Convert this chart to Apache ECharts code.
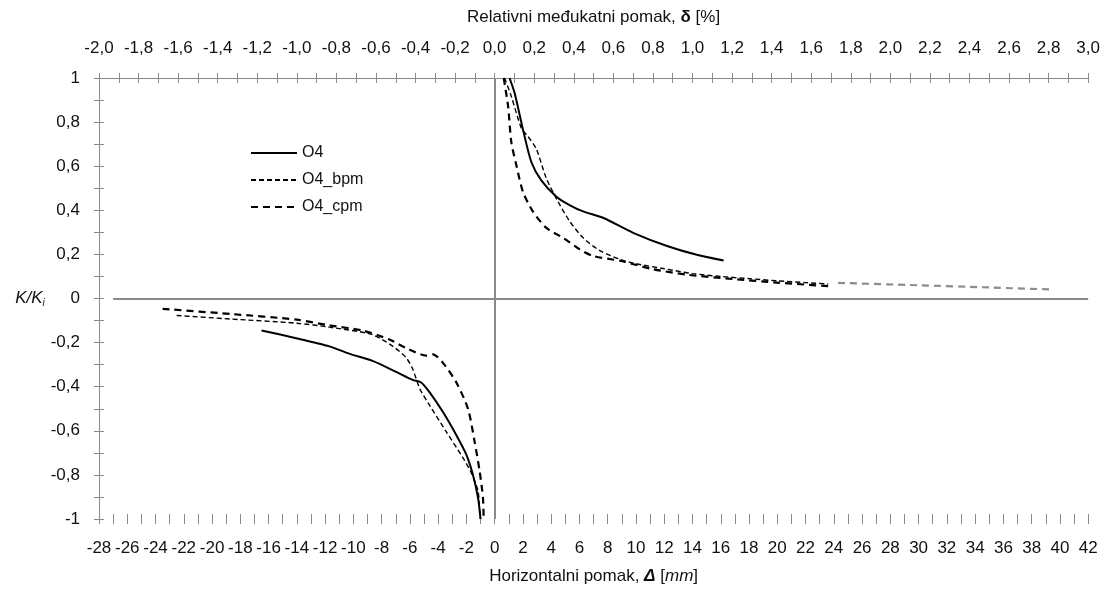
<!DOCTYPE html>
<html>
<head>
<meta charset="utf-8">
<script src="https://cdn.jsdelivr.net/npm/echarts@6/dist/echarts.min.js"></script>
<style>
html,body{margin:0;padding:0;background:#fff;}
#chart{width:1103px;height:590px;}
</style>
</head>
<body>
<div id="chart"></div>
<script>
// ---- data (x = horizontal displacement Δ [mm], y = K/Ki) ----
const O4_pos = [[1.05,1.0],[1.42,0.93],[2.0,0.767],[2.6,0.618],[3.3,0.536],[4.37,0.462],[5.3,0.424],[6.26,0.395],[7.7,0.365],[9.8,0.298],[12.2,0.238],[14.3,0.198],[16.2,0.172]];
const O4_neg = [[-16.5,-0.145],[-14.05,-0.18],[-11.7,-0.217],[-10.3,-0.25],[-8.6,-0.284],[-6.97,-0.333],[-5.8,-0.369],[-5.2,-0.381],[-4.6,-0.426],[-3.66,-0.515],[-2.71,-0.62],[-2.0,-0.709],[-1.54,-0.799],[-1.18,-0.903],[-1.0,-1.0]];
const O4_bpm_pos = [[0.7,1.0],[1.18,0.916],[1.9,0.77],[2.3,0.74],[2.95,0.678],[3.66,0.544],[4.47,0.441],[5.3,0.351],[6.26,0.275],[7.44,0.217],[8.86,0.178],[10,0.158],[12,0.135],[14,0.113],[16,0.1],[18,0.09],[20,0.08],[22,0.072],[23.6,0.066]];
const O4_bpm_neg = [[-22.5,-0.077],[-18.7,-0.093],[-14,-0.112],[-11.7,-0.13],[-8.7,-0.163],[-7.2,-0.217],[-6.26,-0.269],[-5.8,-0.32],[-5.3,-0.409],[-4.6,-0.485],[-3.42,-0.605],[-2.24,-0.723],[-1.65,-0.791],[-1.18,-0.873],[-1.06,-0.963],[-1.0,-1.0]];
const O4_cpm_pos = [[0.64,1.0],[0.95,0.872],[1.18,0.708],[1.54,0.603],[2.0,0.484],[2.7,0.395],[3.66,0.32],[4.84,0.275],[6.02,0.223],[6.96,0.193],[8.86,0.171],[11.2,0.133],[13.6,0.108],[16.9,0.088],[20,0.072],[23.6,0.056]];
const O4_cpm_neg = [[-23.5,-0.047],[-18.7,-0.07],[-14,-0.096],[-11.7,-0.122],[-9.35,-0.145],[-7.44,-0.186],[-6.26,-0.225],[-4.84,-0.259],[-4.37,-0.253],[-3.66,-0.292],[-2.71,-0.381],[-1.89,-0.5],[-1.42,-0.649],[-1.06,-0.785],[-0.83,-0.903],[-0.78,-1.0]];
const O4_cpm_ext = [[24.3,0.071],[30,0.06],[35,0.05],[39.4,0.041]];
const legendNames = ['O4','O4_bpm','O4_cpm'];
const xMinMm = -28, xMaxMm = 42, xStepMm = 2;
const xMinPct = -2, xMaxPct = 3, xStepPct = 0.2;
const yMin = -1, yMax = 1, yStep = 0.2;

const FONT = "'Liberation Sans', Arial, sans-serif";
const AX = '#8a8a8a';
const chart = echarts.init(document.getElementById('chart'), null, {renderer:'canvas'});
const comma = v => String(Math.round(v*10)/10).replace('.', ',');
const pctFmt = v => (Math.abs(v) < 1e-9 ? 0 : v).toFixed(1).replace('.', ',');

function lineSeries(name, data, style){
  return {name, type:'line', data, symbol:'none', smooth:0.25, xAxisIndex:0, yAxisIndex:0,
    lineStyle:style, itemStyle:{color:style.color}, emphasis:{disabled:true}, z:3};
}
const sSolid = {color:'#000', width:2, type:'solid'};
const sBpm = {color:'#000', width:1.4, type:[5,3]};
const sCpm = {color:'#000', width:2.2, type:[7,5]};

const series = [
  lineSeries('O4', O4_pos, sSolid),
  lineSeries('O4', O4_neg, sSolid),
  lineSeries('O4_bpm', O4_bpm_pos, sBpm),
  lineSeries('O4_bpm', O4_bpm_neg, sBpm),
  lineSeries('O4_cpm', O4_cpm_pos, sCpm),
  lineSeries('O4_cpm', O4_cpm_neg, sCpm),
  lineSeries('ext', O4_cpm_ext, {color:'#8c8c8c', width:2.2, type:[7,5]})
];
series[0].markLine = {
  silent:true, symbol:'none', animation:false, label:{show:false},
  lineStyle:{color:AX, width:2, type:'solid'},
  data:[
    [{coord:[-27,0]},{coord:[xMaxMm,0]}],
    [{coord:[0,yMin]},{coord:[0,yMax]}]
  ]
};

const tickLbl = {color:'#111', fontFamily:FONT, fontSize:17};
const tickStyle = {color:AX};
const option = {
  animation:false,
  backgroundColor:'#fff',
  grid:{left:99, right:14, top:78, bottom:65, containLabel:false},
  legend:{
    data:legendNames, orient:'vertical', left:245, top:140,
    itemWidth:46, itemHeight:14, itemGap:11,
    itemStyle:{opacity:0},
    textStyle:{fontFamily:FONT, fontSize:16, color:'#111'}
  },
  xAxis:[
    {type:'value', position:'bottom', min:xMinMm, max:xMaxMm, interval:xStepMm,
     axisLine:{show:false, onZero:false}, splitLine:{show:false},
     axisTick:{show:true, length:5, lineStyle:tickStyle},
     minorTick:{show:true, splitNumber:2, length:5, lineStyle:tickStyle},
     axisLabel:Object.assign({margin:21}, tickLbl),
     name:'Horizontalni pomak, {b|Δ} [{i|mm}]', nameLocation:'middle', nameGap:49,
     nameTextStyle:{fontFamily:FONT, fontSize:17, color:'#111',
       rich:{b:{fontFamily:FONT, fontSize:17, fontWeight:'bold', fontStyle:'italic', color:'#111'},
             i:{fontFamily:FONT, fontSize:17, fontStyle:'italic', color:'#111'}}}},
    {type:'value', position:'bottom', min:xMinMm, max:xMaxMm, interval:xStepMm,
     axisLine:{show:false, onZero:false}, splitLine:{show:false}, axisLabel:{show:false},
     axisTick:{show:true, inside:true, length:5, lineStyle:tickStyle},
     minorTick:{show:true, splitNumber:2, length:5, lineStyle:tickStyle}},
    {type:'value', position:'top', min:xMinPct, max:xMaxPct, interval:xStepPct,
     axisLine:{show:true, onZero:false, lineStyle:{color:AX, width:1}}, splitLine:{show:false},
     axisTick:{show:true, length:5, lineStyle:tickStyle},
     minorTick:{show:true, splitNumber:2, length:5, lineStyle:tickStyle},
     axisLabel:Object.assign({margin:21, formatter:pctFmt}, tickLbl),
     name:'Relativni međukatni pomak, {b|δ} [%]', nameLocation:'middle', nameGap:52,
     nameTextStyle:{fontFamily:FONT, fontSize:17, color:'#111',
       rich:{b:{fontFamily:FONT, fontSize:17, fontWeight:'bold', color:'#111'}}}},
    {type:'value', position:'top', min:xMinPct, max:xMaxPct, interval:xStepPct,
     axisLine:{show:false, onZero:false}, splitLine:{show:false}, axisLabel:{show:false},
     axisTick:{show:true, inside:true, length:5, lineStyle:tickStyle},
     minorTick:{show:true, splitNumber:2, length:5, lineStyle:tickStyle}}
  ],
  yAxis:[
    {type:'value', position:'left', min:yMin, max:yMax, interval:yStep,
     axisLine:{show:true, onZero:false, lineStyle:{color:AX, width:1}}, splitLine:{show:false},
     axisTick:{show:true, length:5, lineStyle:tickStyle},
     minorTick:{show:true, splitNumber:2, length:5, lineStyle:tickStyle},
     axisLabel:Object.assign({margin:19, formatter:comma}, tickLbl),
     name:'{k|K/K}{s|i}', nameLocation:'middle', nameGap:68, nameRotate:0,
     nameTextStyle:{align:'center', verticalAlign:'middle',
       rich:{k:{fontFamily:FONT, fontSize:17, fontStyle:'italic', color:'#111'},
             s:{fontFamily:FONT, fontSize:10, fontStyle:'italic', color:'#111', padding:[9,0,0,0]}}}},
    {type:'value', position:'left', min:yMin, max:yMax, interval:yStep,
     axisLine:{show:false, onZero:false}, splitLine:{show:false}, axisLabel:{show:false},
     axisTick:{show:true, inside:true, length:5, lineStyle:tickStyle},
     minorTick:{show:true, splitNumber:2, length:5, lineStyle:tickStyle}}
  ],
  series
};
chart.setOption(option);
</script>
</body>
</html>
